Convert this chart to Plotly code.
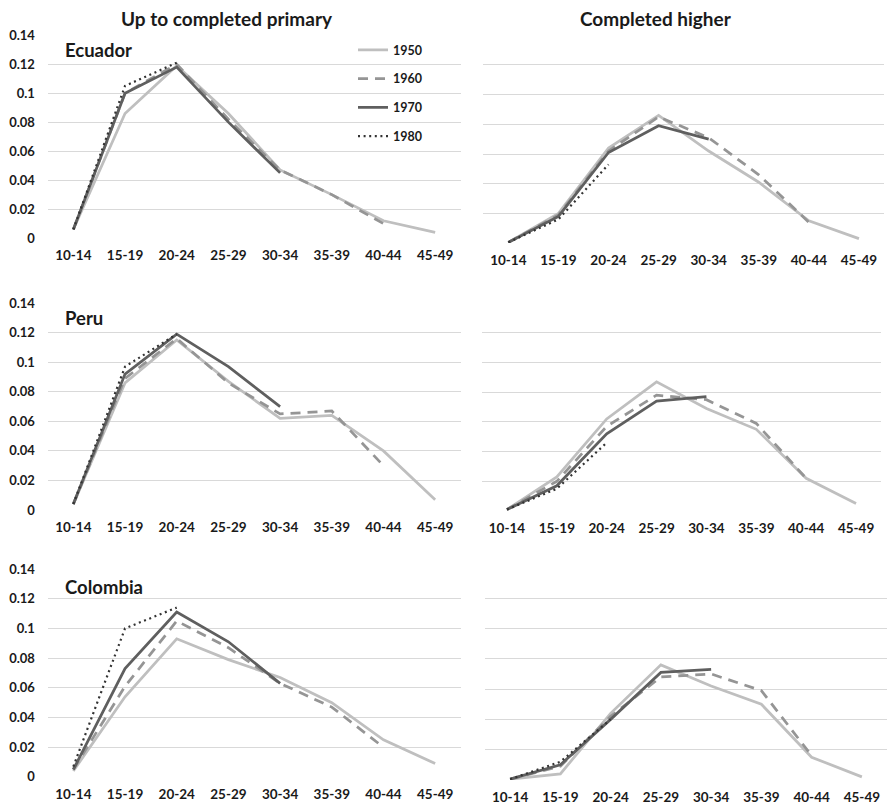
import plotly.graph_objects as go

ages = ["10-14", "15-19", "20-24", "25-29", "30-34", "35-39", "40-44", "45-49"]
years = ["1950", "1960", "1970", "1980"]
y_ticks = [0, 0.02, 0.04, 0.06, 0.08, 0.1, 0.12, 0.14]
y_tick_text = ["0", "0.02", "0.04", "0.06", "0.08", "0.1", "0.12", "0.14"]
col_titles = ["Up to completed primary", "Completed higher"]
countries = ["Ecuador", "Peru", "Colombia"]

N = None
ecu_prim_1950 = [0.006, 0.086, 0.119, 0.086, 0.047, 0.030, 0.012, 0.004]
ecu_prim_1960 = [0.006, 0.100, 0.120, 0.082, 0.047, 0.030, 0.010, N]
ecu_prim_1970 = [0.006, 0.100, 0.118, 0.080, 0.045, N, N, N]
ecu_prim_1980 = [0.006, 0.105, 0.121, N, N, N, N, N]

ecu_high_1950 = [0.0005, 0.020, 0.064, 0.086, 0.062, 0.041, 0.015, 0.003]
ecu_high_1960 = [0.0005, 0.019, 0.062, 0.085, 0.071, 0.046, 0.014, N]
ecu_high_1970 = [0.0005, 0.018, 0.061, 0.079, 0.070, N, N, N]
ecu_high_1980 = [0.0005, 0.016, 0.053, N, N, N, N, N]

peru_prim_1950 = [0.004, 0.086, 0.115, 0.087, 0.062, 0.064, 0.040, 0.007]
peru_prim_1960 = [0.004, 0.089, 0.116, 0.086, 0.065, 0.067, 0.030, N]
peru_prim_1970 = [0.004, 0.092, 0.119, 0.097, 0.070, N, N, N]
peru_prim_1980 = [0.004, 0.097, 0.119, N, N, N, N, N]

peru_high_1950 = [0.001, 0.023, 0.062, 0.087, 0.069, 0.055, 0.022, 0.005]
peru_high_1960 = [0.001, 0.020, 0.057, 0.078, 0.075, 0.059, 0.022, N]
peru_high_1970 = [0.001, 0.017, 0.052, 0.074, 0.077, N, N, N]
peru_high_1980 = [0.001, 0.015, 0.046, N, N, N, N, N]

col_prim_1950 = [0.004, 0.054, 0.093, 0.079, 0.067, 0.050, 0.025, 0.009]
col_prim_1960 = [0.005, 0.061, 0.105, 0.087, 0.063, 0.047, 0.020, N]
col_prim_1970 = [0.005, 0.073, 0.111, 0.091, 0.063, N, N, N]
col_prim_1980 = [0.007, 0.100, 0.114, N, N, N, N, N]

col_high_1950 = [0.0005, 0.004, 0.044, 0.076, 0.062, 0.050, 0.015, 0.002]
col_high_1960 = [0.0005, 0.009, 0.042, 0.068, 0.070, 0.059, 0.016, N]
col_high_1970 = [0.0005, 0.010, 0.040, 0.071, 0.073, N, N, N]
col_high_1980 = [0.0005, 0.012, 0.040, N, N, N, N, N]

panels = [
    [ecu_prim_1950, ecu_prim_1960, ecu_prim_1970, ecu_prim_1980],
    [ecu_high_1950, ecu_high_1960, ecu_high_1970, ecu_high_1980],
    [peru_prim_1950, peru_prim_1960, peru_prim_1970, peru_prim_1980],
    [peru_high_1950, peru_high_1960, peru_high_1970, peru_high_1980],
    [col_prim_1950, col_prim_1960, col_prim_1970, col_prim_1980],
    [col_high_1950, col_high_1960, col_high_1970, col_high_1980],
]

W, H = 887, 806
FONT = "Lato"


def py(y):
    """vertical pixel position (from top) -> placement pixel, compensating
    the observed vertical offset/compression of the rendered page"""
    return (y - 7.8) / 0.9805


styles = [
    dict(color="#BFBFBF", width=2.75, dash="solid"),
    dict(color="#959595", width=2.75, dash="10px,7px"),
    dict(color="#5F5F5F", width=2.75, dash="solid"),
    dict(color="#333333", width=2.2, dash="2px,3.6px"),
]

# pixel geometry of each panel: (left, right, top, bottom)
geom = [
    (47.5, 461, 35, 238),
    (483.3, 884, 35, 243),
    (47.5, 461, 303, 510),
    (482, 881, 303, 511),
    (47.5, 461, 569, 777),
    (485, 887, 568, 780),
]

fig = go.Figure()
layout = {}
for i, (series, (l, r, t, b)) in enumerate(zip(panels, geom)):
    n = "" if i == 0 else str(i + 1)
    xa, ya = "x" + n, "y" + n
    for j, vals in enumerate(series):
        fig.add_trace(go.Scatter(
            x=ages, y=vals, mode="lines", name=years[j],
            line=styles[j], xaxis=xa, yaxis=ya,
            showlegend=(i == 0), legendgroup=years[j],
            connectgaps=False, hoverinfo="skip",
        ))
    left_col = (i % 2 == 0)
    layout["xaxis" + n] = dict(
        domain=[l / W, r / W], anchor=ya, type="category",
        categoryorder="array", categoryarray=ages, range=[-0.5, 7.5],
        showgrid=False, showline=False, zeroline=False,
        ticks="outside", ticklen=5, tickcolor="rgba(0,0,0,0)",
        tickfont=dict(family=FONT, size=13.5, color="#1a1a1a", weight="bold"),
        fixedrange=True,
    )
    layout["yaxis" + n] = dict(
        domain=[1 - py(b) / H, 1 - py(t) / H], anchor=xa, range=[0, 0.14],
        tickvals=y_ticks, ticktext=y_tick_text,
        showticklabels=left_col,
        showgrid=True, gridcolor="#D9D9D9", gridwidth=1,
        zeroline=False, showline=False,
        ticks="outside", ticklen=9, tickcolor="rgba(0,0,0,0)",
        tickfont=dict(family=FONT, size=13, color="#1a1a1a", weight="bold"),
        fixedrange=True,
    )

annotations = []
# column titles
for txt, cx in zip(col_titles, [227, 656]):
    annotations.append(dict(
        text=txt, x=cx / W, y=1 - py(18) / H, xref="paper", yref="paper",
        xanchor="center", yanchor="middle", showarrow=False,
        font=dict(family=FONT, size=19, color="#1a1a1a", weight="bold"),
    ))
# country labels
for txt, cy in zip(countries, [50, 318, 587]):
    annotations.append(dict(
        text=txt, x=63 / W, y=1 - py(cy) / H, xref="paper", yref="paper",
        xanchor="left", yanchor="middle", showarrow=False,
        font=dict(family=FONT, size=18.5, color="#1a1a1a", weight="bold"),
    ))

fig.update_layout(
    **layout,
    width=W, height=H,
    margin=dict(l=0, r=0, t=0, b=0),
    paper_bgcolor="white", plot_bgcolor="white",
    annotations=annotations,
    showlegend=True,
    legend=dict(
        x=353 / W, y=1 - py(35) / H, xanchor="left", yanchor="top",
        bgcolor="rgba(0,0,0,0)", borderwidth=0,
        traceorder="grouped", tracegroupgap=9.5,
        font=dict(family=FONT, size=12.5, color="#1a1a1a", weight="bold"),
        itemwidth=30,
    ),
)

post = (
    "document.documentElement.style.margin='0';"
    "document.documentElement.style.overflow='hidden';"
    "document.body.style.margin='0';document.body.style.padding='0';"
    "document.body.style.overflow='hidden';"
    "var d=document.getElementById('{plot_id}');"
    "d.style.position='fixed';d.style.top='0px';d.style.left='0px';"
)

fig.write_html(
    "out.html",
    config={"displayModeBar": False},
    post_script=post,
)
